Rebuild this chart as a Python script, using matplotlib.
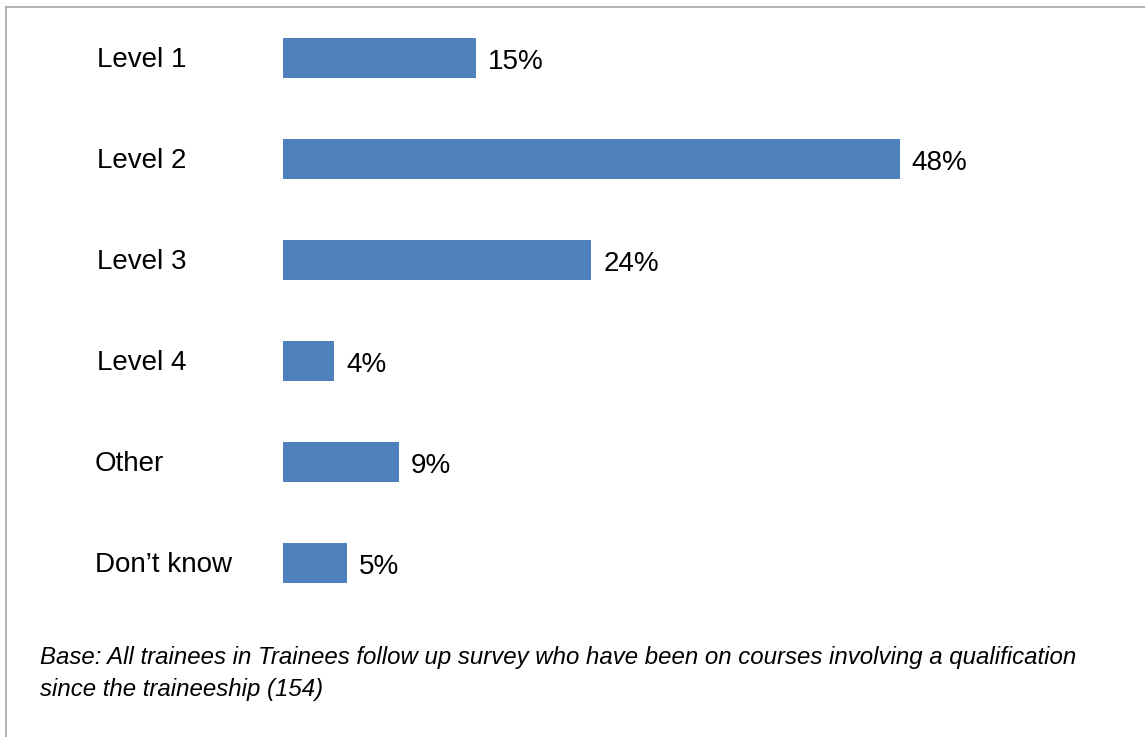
import matplotlib.pyplot as plt
from matplotlib.lines import Line2D

plt.rcParams["font.family"] = ["Liberation Sans", "DejaVu Sans"]

categories = ["Level 1", "Level 2", "Level 3", "Level 4", "Other", "Don\u2019t know"]
values = [15, 48, 24, 4, 9, 5]
footnote = [
    "Base: All trainees in Trainees follow up survey who have been on courses involving a qualification",
    "since the traineeship (154)",
]

W, H = 1145, 737
PT = 72 / 100  # points per pixel at dpi 100
fig = plt.figure(figsize=(W / 100, H / 100), dpi=100)

# axes placed in pixel terms: bars start at x=283, 12.85 px per percent
x0 = 283
px_per = 12.85
xmax = 60
ax_bottom = 1 - 613.5 / H
ax_height = 606 / H
ax = fig.add_axes([x0 / W, ax_bottom, xmax * px_per / W, ax_height])

ypos = list(range(len(categories)))
ax.barh(ypos, values, height=0.396, color="#4F81BD", edgecolor="none")
ax.set_xlim(0, xmax)
ax.set_ylim(len(categories) - 0.5, -0.5)
ax.axis("off")

for y, v in zip(ypos, values):
    ax.annotate(f"{v}%", xy=(v, y), xytext=(12 * PT, -11 * PT), textcoords="offset points",
                ha="left", va="baseline", fontsize=20, color="black")

for y, cat in zip(ypos, categories):
    xl = 97 if cat.startswith("Level") else 95
    ax.annotate(cat, xy=(0, y), xytext=((xl - x0) * PT, -9 * PT), textcoords="offset points",
                ha="left", va="baseline", fontsize=20, color="black")

fig.text(40 / W, 1 - 664 / H, footnote[0], ha="left", va="baseline",
         fontsize=17.3, style="italic", color="black")
fig.text(40 / W, 1 - 696 / H, footnote[1], ha="left", va="baseline",
         fontsize=17.3, style="italic", color="black")

# outer frame (only left and top edges visible in the crop)
fig.add_artist(Line2D([5.5 / W, 5.5 / W], [0, 1 - 7 / H], transform=fig.transFigure,
                      color="#A6A6A6", linewidth=1.2))
fig.add_artist(Line2D([5.5 / W, 1], [1 - 7 / H, 1 - 7 / H], transform=fig.transFigure,
                      color="#A6A6A6", linewidth=1.2))

fig.savefig("out.png", dpi=100)
